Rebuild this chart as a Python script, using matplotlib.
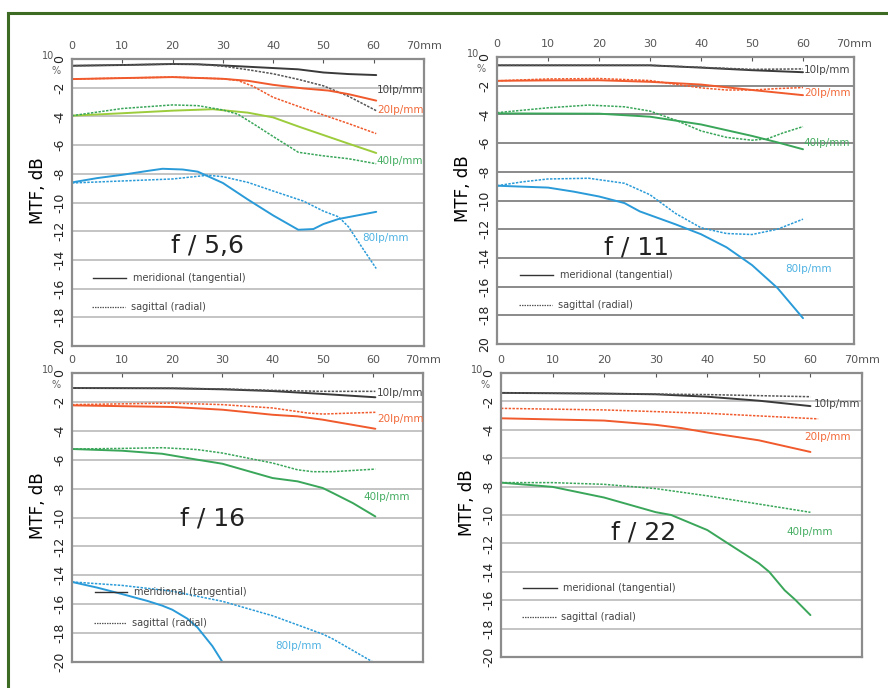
import numpy as np
import matplotlib
matplotlib.use("Agg")
import matplotlib.pyplot as plt

# image height / width in pixels (figure at dpi 100)
W, H = 888, 688

# ---------------- data (field position in mm, MTF in dB) ----------------
# f / 5,6
x10s_1 = [0, 10, 20, 25, 30, 40, 45, 50, 55, 60.5]
y10s_1 = [-0.47, -0.42, -0.35, -0.37, -0.45, -0.63, -0.72, -0.94, -1.05, -1.12]
x10d_1 = [0, 10, 20, 25, 30, 35, 40, 45, 50, 55, 60.5]
y10d_1 = [-0.47, -0.42, -0.35, -0.37, -0.5, -0.75, -1.03, -1.42, -1.87, -2.6, -3.6]
x20s_1 = [0, 10, 20, 30, 35, 40, 46, 51, 55, 60.5]
y20s_1 = [-1.4, -1.33, -1.26, -1.38, -1.52, -1.8, -2.05, -2.2, -2.45, -2.9]
x20d_1 = [0, 10, 20, 30, 33, 36, 40, 45, 50, 55, 60.5]
y20d_1 = [-1.4, -1.33, -1.26, -1.38, -1.5, -1.9, -2.67, -3.3, -3.9, -4.5, -5.2]
x40s_1 = [0, 10, 20, 28, 35, 40, 45, 50, 55, 60.5]
y40s_1 = [-3.95, -3.78, -3.6, -3.5, -3.74, -4.07, -4.7, -5.3, -5.9, -6.55]
x40d_1 = [0, 10, 20, 25, 30, 33, 36, 40, 45, 50, 55, 60.5]
y40d_1 = [-3.95, -3.45, -3.2, -3.25, -3.55, -3.85, -4.5, -5.4, -6.5, -6.75, -6.95, -7.3]
x80s_1 = [0, 5, 10, 15, 18, 22, 25, 30, 35, 40, 45, 48, 50, 53, 56, 60.5]
y80s_1 = [-8.6, -8.3, -8.07, -7.8, -7.65, -7.7, -7.85, -8.64, -9.8, -10.9, -11.9, -11.85, -11.5, -11.15, -10.95, -10.65]
x80d_1 = [0, 10, 20, 27, 30, 35, 40, 46, 50, 53, 55, 58, 60.5]
y80d_1 = [-8.64, -8.5, -8.36, -8.1, -8.2, -8.6, -9.2, -9.9, -10.6, -11.0, -11.7, -13.3, -14.6]

# f / 11
x10s_2 = [0, 10, 20, 30, 40, 50, 60]
y10s_2 = [-0.58, -0.58, -0.58, -0.58, -0.74, -0.92, -1.06]
x10d_2 = [0, 10, 20, 30, 40, 50, 60]
y10d_2 = [-0.58, -0.58, -0.58, -0.58, -0.72, -0.86, -0.83]
x20s_2 = [0, 10, 20, 30, 40, 50, 60]
y20s_2 = [-1.66, -1.63, -1.62, -1.73, -1.92, -2.3, -2.66]
x20d_2 = [0, 10, 20, 30, 35, 40, 45, 50, 55, 60]
y20d_2 = [-1.66, -1.53, -1.5, -1.64, -1.9, -2.15, -2.3, -2.3, -2.2, -2.13]
x40s_2 = [0, 10, 20, 30, 40, 50, 55, 60]
y40s_2 = [-3.93, -3.94, -3.95, -4.16, -4.7, -5.5, -5.95, -6.43]
x40d_2 = [0, 10, 18, 25, 30, 35, 40, 45, 50, 53, 56, 60]
y40d_2 = [-3.88, -3.54, -3.35, -3.47, -3.77, -4.4, -5.15, -5.6, -5.8, -5.7, -5.3, -4.85]
x80s_2 = [0, 10, 15, 20, 25, 28, 35, 40, 45, 50, 55, 60]
y80s_2 = [-8.97, -9.1, -9.38, -9.72, -10.18, -10.76, -11.66, -12.35, -13.26, -14.5, -16.1, -18.2]
x80d_2 = [0, 5, 10, 18, 25, 30, 35, 40, 45, 50, 55, 60]
y80d_2 = [-8.97, -8.7, -8.5, -8.45, -8.8, -9.6, -10.9, -11.9, -12.3, -12.37, -12.0, -11.3]

# f / 16
x10s_3 = [0, 20, 30, 40, 50, 60.5]
y10s_3 = [-1.04, -1.06, -1.13, -1.25, -1.45, -1.68]
x10d_3 = [0, 20, 30, 40, 50, 60.5]
y10d_3 = [-1.04, -1.06, -1.1, -1.2, -1.27, -1.27]
x20s_3 = [0, 20, 30, 40, 45, 50, 60.5]
y20s_3 = [-2.24, -2.35, -2.54, -2.89, -3.0, -3.23, -3.86]
x20d_3 = [0, 20, 30, 40, 47, 50, 60.5]
y20d_3 = [-2.19, -2.08, -2.19, -2.42, -2.77, -2.84, -2.72]
x40s_3 = [0, 10, 18, 25, 30, 40, 45, 50, 52, 56, 60.5]
y40s_3 = [-5.26, -5.38, -5.59, -6.0, -6.28, -7.27, -7.5, -7.96, -8.3, -9.0, -9.93]
x40d_3 = [0, 10, 18, 25, 30, 40, 45, 48, 52, 60.5]
y40d_3 = [-5.26, -5.22, -5.17, -5.3, -5.54, -6.23, -6.7, -6.83, -6.83, -6.65]
x80s_3 = [0, 5, 10, 15, 18, 20, 23, 25, 28, 30]
y80s_3 = [-14.46, -14.85, -15.3, -15.77, -16.1, -16.38, -17.0, -17.6, -18.9, -20]
x80d_3 = [0, 10, 20, 30, 40, 50, 52, 56, 60]
y80d_3 = [-14.46, -14.7, -15.1, -15.8, -16.8, -18.07, -18.4, -19.2, -20]

# f / 22
x10s_4 = [0, 20, 30, 40, 50, 60]
y10s_4 = [-1.4, -1.45, -1.5, -1.67, -1.95, -2.33]
x10d_4 = [0, 20, 40, 60]
y10d_4 = [-1.4, -1.45, -1.52, -1.67]
x20s_4 = [0, 20, 30, 35, 40, 50, 60]
y20s_4 = [-3.19, -3.35, -3.65, -3.88, -4.19, -4.74, -5.56]
x20d_4 = [0, 20, 40, 61.5]
y20d_4 = [-2.49, -2.6, -2.84, -3.23]
x40s_4 = [0, 10, 20, 30, 33, 40, 44, 50, 52, 55, 57, 60]
y40s_4 = [-7.72, -8.02, -8.77, -9.8, -10.0, -11.06, -12.0, -13.4, -14.0, -15.3, -15.95, -17.05]
x40d_4 = [0, 10, 20, 30, 40, 50, 60]
y40d_4 = [-7.72, -7.72, -7.84, -8.14, -8.65, -9.23, -9.81]

x_ticks = [0, 10, 20, 30, 40, 50, 60, 70]
x_tick_labels = ["0", "10", "20", "30", "40", "50", "60", "70mm"]
y_ticks = [0, -2, -4, -6, -8, -10, -12, -14, -16, -18, -20]
apertures = ["f / 5,6", "f / 11", "f / 16", "f / 22"]

# colours
c10s, c10d = "#3a3a3a", "#555555"
c20 = "#f05a2c"
c40, c40y = "#3aa65a", "#9ccc3c"
c80 = "#2a9bd8"
lab_col = {"10": "#444444", "20": "#f26a3a", "40": "#45ad62", "80": "#4fb2e2"}


def px(x, y):
    # pixel position -> figure fraction
    return x / W, 1 - y / H


fig = plt.figure(figsize=(W / 100, H / 100), dpi=100)

# green frame (top and left edge only visible)
fig.add_artist(plt.Line2D([8 / W, 8 / W], [0, 1 - 13 / H], color="#3e6b24", lw=2.2))
fig.add_artist(plt.Line2D([8 / W, 1], [1 - 13 / H, 1 - 13 / H], color="#3e6b24", lw=2.2))

# panel boxes in pixels: left, top, right, bottom
boxes = [(72, 59, 424, 346), (497, 57, 854, 344), (72, 373, 423, 662), (501, 373, 862, 657)]
grid_cols = ["#c4c4c4", "#8a8a8a", "#c4c4c4", "#c4c4c4"]
axes = []
for i, (l, t, r, b) in enumerate(boxes):
    ax = fig.add_axes([l / W, 1 - b / H, (r - l) / W, (b - t) / H])
    ax.set_xlim(0, 70)
    ax.set_ylim(-20, 0)
    for yy in y_ticks[1:-1]:
        ax.axhline(yy, color=grid_cols[i], lw=1.4, zorder=0)
    for s in ax.spines.values():
        s.set_color("#8c8c8c")
        s.set_linewidth(1.6)
    ax.xaxis.tick_top()
    ax.set_xticks(x_ticks)
    ax.set_xticklabels(x_tick_labels, fontsize=8, color="#555555")
    ax.tick_params(axis="x", direction="in", length=3, pad=6, color="#555555")
    ax.set_yticks(y_ticks)
    last = "20" if i < 2 else "-20"
    ax.set_yticklabels([str(v) for v in y_ticks[:-1]] + [last], rotation=90,
                       fontsize=9, va="center", color="#222222")
    ax.tick_params(axis="y", length=0, pad=4)
    axes.append(ax)
    # "100 %" marker at the top of the y axis
    fig.text(*px(l - 18, t - 3), "10", fontsize=7, color="#555555", ha="right", va="center")
    fig.text(*px(l - 16, t + 12), "%", fontsize=7, color="#666666", ha="center", va="center")
    fig.text(*px(l - 34, (t + b) / 2 - 12), "MTF, dB", rotation=90, fontsize=12,
             ha="center", va="center")

ax1, ax2, ax3, ax4 = axes
sol = dict(lw=1.4, solid_capstyle="round")
dsh = dict(lw=1.1, ls=(0, (1.6, 0.9)))

# f / 5,6
ax1.plot(x10s_1, y10s_1, color=c10s, **sol)
ax1.plot(x10d_1, y10d_1, color=c10d, **dsh)
ax1.plot(x20s_1, y20s_1, color=c20, **sol)
ax1.plot(x20d_1, y20d_1, color=c20, **dsh)
ax1.plot(x40s_1, y40s_1, color=c40y, **sol)
ax1.plot(x40d_1, y40d_1, color=c40, **dsh)
ax1.plot(x80s_1, y80s_1, color=c80, **sol)
ax1.plot(x80d_1, y80d_1, color=c80, **dsh)

# f / 11
ax2.plot(x10s_2, y10s_2, color=c10s, **sol)
ax2.plot(x10d_2, y10d_2, color=c10d, **dsh)
ax2.plot(x20s_2, y20s_2, color=c20, **sol)
ax2.plot(x20d_2, y20d_2, color=c20, **dsh)
ax2.plot(x40s_2, y40s_2, color=c40, **sol)
ax2.plot(x40d_2, y40d_2, color=c40, **dsh)
ax2.plot(x80s_2, y80s_2, color=c80, **sol)
ax2.plot(x80d_2, y80d_2, color=c80, **dsh)

# f / 16
ax3.plot(x10s_3, y10s_3, color=c10s, **sol)
ax3.plot(x10d_3, y10d_3, color=c10d, **dsh)
ax3.plot(x20s_3, y20s_3, color=c20, **sol)
ax3.plot(x20d_3, y20d_3, color=c20, **dsh)
ax3.plot(x40s_3, y40s_3, color=c40, **sol)
ax3.plot(x40d_3, y40d_3, color=c40, **dsh)
ax3.plot(x80s_3, y80s_3, color=c80, **sol)
ax3.plot(x80d_3, y80d_3, color=c80, **dsh)

# f / 22
ax4.plot(x10s_4, y10s_4, color=c10s, **sol)
ax4.plot(x10d_4, y10d_4, color=c10d, **dsh)
ax4.plot(x20s_4, y20s_4, color=c20, **sol)
ax4.plot(x20d_4, y20d_4, color=c20, **dsh)
ax4.plot(x40s_4, y40s_4, color=c40, **sol)
ax4.plot(x40d_4, y40d_4, color=c40, **dsh)

# curve labels (pixel positions)
labels = [
    (400, 90, "10"), (400, 110, "20"), (400, 161, "40"), (385, 238, "80"),
    (827, 70, "10"), (827, 93, "20"), (827, 143, "40"), (808, 269, "80"),
    (400, 393, "10"), (400, 419, "20"), (387, 497, "40"), (298, 646, "80"),
    (837, 404, "10"), (827, 437, "20"), (810, 532, "40"),
]
for x, y, k in labels:
    fig.text(*px(x, y), k + "lp/mm", fontsize=7.5, color=lab_col[k], ha="center", va="center")

# aperture titles
for (x, y), s in zip([(207, 246), (637, 247), (213, 519), (644, 533)], apertures):
    fig.text(*px(x, y), s, fontsize=18, ha="center", va="center", color="#222222")

# small legends inside each panel
leg = [(93, 126, 133, 278, 307), (520, 553, 560, 275, 305),
       (95, 127, 134, 592, 623), (523, 557, 563, 588, 617)]
for x0, x1, xt, ym, ys in leg:
    fig.add_artist(plt.Line2D([x0 / W, x1 / W], [1 - ym / H] * 2, color="#333333", lw=1.0))
    fig.add_artist(plt.Line2D([(x0 - 1) / W, (x1 - 1) / W], [1 - ys / H] * 2, color="#555555",
                              lw=0.9, ls=(0, (1.2, 0.8))))
    fig.text(*px(xt, ym), "meridional (tangential)", fontsize=7, color="#444444", va="center")
    fig.text(*px(xt - 2, ys), "sagittal (radial)", fontsize=7, color="#444444", va="center")

fig.savefig("out.png", dpi=100)
